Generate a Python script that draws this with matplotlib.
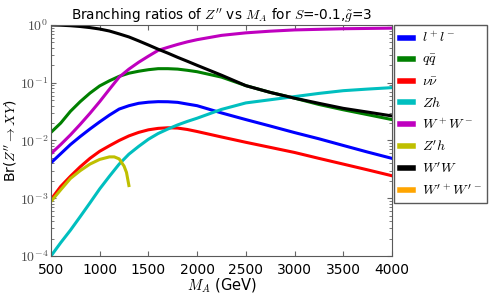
import numpy as np
import matplotlib
matplotlib.use('Agg')
import matplotlib.pyplot as plt
from matplotlib.ticker import FixedLocator, FuncFormatter, LogLocator

plt.rcParams['mathtext.fontset'] = 'cm'
plt.rcParams['font.family'] = ['DejaVu Sans']

# Z'' mass grid (GeV)
M_A = [500, 600, 700, 800, 900, 1000, 1100, 1200, 1300, 1400, 1500, 1600, 1700, 1800, 1900, 2000,
       2250, 2500, 2750, 3000, 3250, 3500, 3750, 4000]

# branching ratios
br_ll = [0.0041, 0.0059, 0.0085, 0.0117, 0.0158, 0.021, 0.0275, 0.035, 0.040, 0.044, 0.046, 0.047,
         0.0468, 0.0457, 0.0427, 0.040,
         0.030, 0.023, 0.0178, 0.0137, 0.0107, 0.0082, 0.0063, 0.0049]
br_qq = [0.0138, 0.020, 0.032, 0.047, 0.066, 0.088, 0.108, 0.129, 0.146, 0.158, 0.168, 0.175,
         0.175, 0.172, 0.164, 0.155,
         0.125, 0.089, 0.068, 0.054, 0.042, 0.034, 0.028, 0.023]
br_nunu = [0.00095, 0.0016, 0.0024, 0.0035, 0.0049, 0.0065, 0.0081, 0.010, 0.012, 0.0138, 0.0153,
           0.0162, 0.0166, 0.0164, 0.0155, 0.0143,
           0.0115, 0.0093, 0.0076, 0.0062, 0.0049, 0.0039, 0.0031, 0.00245]
br_Zh = [0.0001, 0.00017, 0.00028, 0.00048, 0.00083, 0.00145, 0.0024, 0.0039, 0.0058, 0.0079,
         0.0105, 0.0132, 0.0158, 0.0186, 0.0214, 0.0243,
         0.0345, 0.0447, 0.0507, 0.0575, 0.0653, 0.0728, 0.0776, 0.0822]
br_WW = [0.0059, 0.0085, 0.0125, 0.019, 0.0295, 0.047, 0.077, 0.125, 0.172, 0.226, 0.288, 0.363,
         0.41, 0.46, 0.51, 0.556,
         0.66, 0.73, 0.78, 0.82, 0.84, 0.86, 0.87, 0.88]
br_WpW = [1.0, 0.99, 0.97, 0.94, 0.90, 0.85, 0.785, 0.70, 0.62, 0.53, 0.45, 0.38,
          0.325, 0.275, 0.235, 0.20,
          0.135, 0.089, 0.068, 0.054, 0.044, 0.036, 0.031, 0.0266]

# Z'h channel only open up to ~1300 GeV
M_Zph = [500, 600, 700, 800, 900, 1000, 1100, 1150, 1200, 1250, 1275, 1300]
br_Zph = [0.00088, 0.0014, 0.0022, 0.0030, 0.0039, 0.0047, 0.0052, 0.0052, 0.0048,
          0.0036, 0.0028, 0.00166]

fig = plt.figure(figsize=(4.9, 2.97), dpi=100)
ax = fig.add_axes([0.104, 0.138, 0.696, 0.778])

lw = 2.2
ax.plot(M_A, br_ll, color='b', lw=lw, label=r'$l^+l^-$')
ax.plot(M_A, br_qq, color='g', lw=lw, label=r'$q\bar{q}$')
ax.plot(M_A, br_nunu, color='r', lw=lw, label=r'$\nu\bar{\nu}$')
ax.plot(M_A, br_Zh, color='c', lw=lw, label=r'$Zh$')
ax.plot(M_A, br_WW, color='m', lw=lw, label=r'$W^+W^-$')
ax.plot(M_Zph, br_Zph, color='y', lw=lw, label=r"$Z'h$")
ax.plot(M_A, br_WpW, color='k', lw=lw, label=r"$W'W$")
ax.plot([], [], color='orange', lw=lw, label=r"$W'^+W'^-$")

ax.set_yscale('log')
ax.set_xlim(500, 4000)
ax.set_ylim(1e-4, 1)
ax.xaxis.set_major_locator(FixedLocator(np.arange(500, 4001, 500)))
ax.yaxis.set_major_locator(LogLocator(base=10))
ax.yaxis.set_minor_locator(LogLocator(base=10, subs=np.arange(2, 10)))
ax.yaxis.set_major_formatter(FuncFormatter(lambda v, p: r'$10^{%d}$' % round(np.log10(v))))
ax.tick_params(which='both', direction='in', top=True, right=True, color='0.4')
ax.tick_params(axis='x', labelsize=10, pad=5)
ax.tick_params(axis='y', labelsize=10, labelcolor='0.3', pad=2)
for s in ax.spines.values():
    s.set_color('0.35')

ax.set_title(r"Branching ratios of $Z''$ vs $M_A$ for $S$=-0.1,$\tilde{g}$=3", fontsize=9.8, pad=4)
ax.set_xlabel(r'$M_A$ (GeV)', fontsize=10.5, labelpad=-1)
ax.set_ylabel(r"Br($Z''\to XY$)", fontsize=10, labelpad=1)

leg = ax.legend(loc='upper left', bbox_to_anchor=(1.006, 1.0), fontsize=10,
                handlelength=1.0, handletextpad=0.6, borderaxespad=0, borderpad=0.4,
                labelspacing=0.5, fancybox=False, framealpha=1)
leg.get_frame().set_edgecolor('0.35')
for h in leg.get_lines():
    h.set_linewidth(4)

fig.savefig('out.png', dpi=100)
